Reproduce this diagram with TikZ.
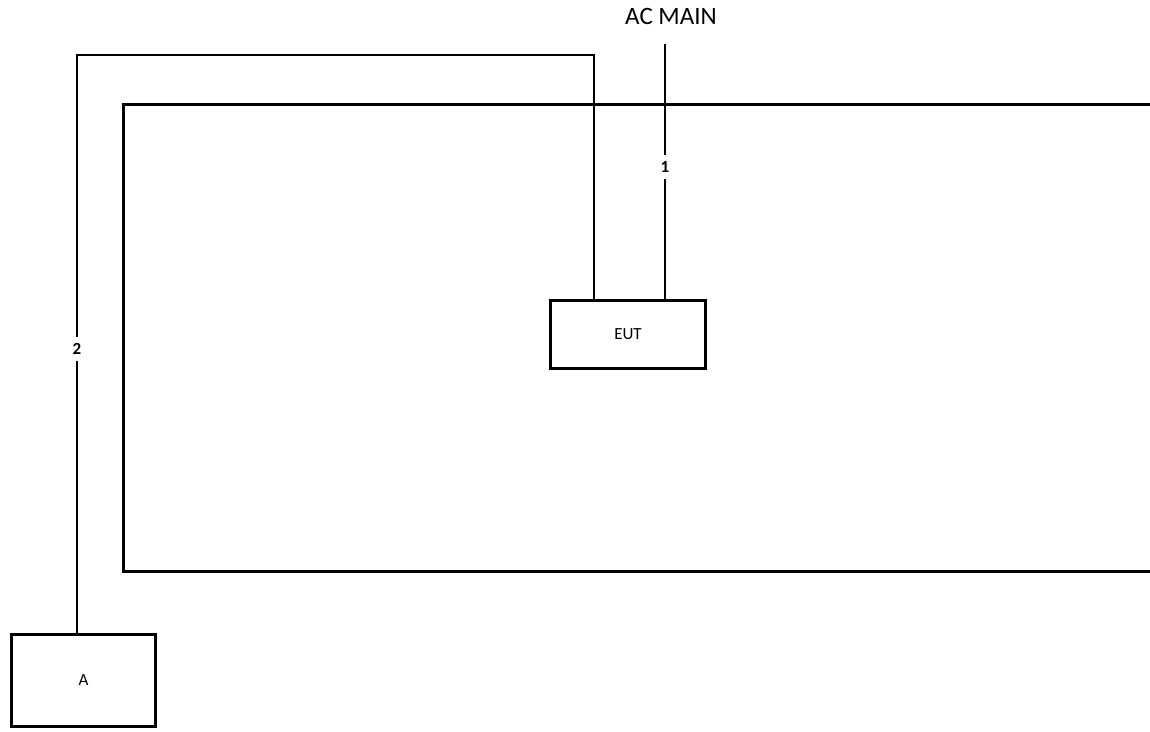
\documentclass[tikz,border=0pt]{standalone}
\usepackage{fontspec}
\setmainfont{Carlito}
\usetikzlibrary{positioning}
\tikzset{%
  unit/.style={draw,line width=3pt,inner sep=0pt},
  table/.style={line width=3pt},
  cable/.style={line width=2pt},
  num/.style={fill=white,font=\bfseries\fontsize{17}{19}\selectfont,inner xsep=3pt,inner ysep=6pt},
  unitlabel/.style={font=\fontsize{17}{19}\selectfont}
}

\begin{document}
\begin{tikzpicture}[x=1pt,y=-1pt]
  \useasboundingbox (0,0) rectangle (1150,731);

  % table outline, open on the right
  \draw[table] (1150,104.5) -- (123.5,104.5) -- (123.5,571.5) -- (1150,571.5);

  \node[unit,minimum width=155pt,minimum height=68pt] (eut) at (628,334.5) {};
  \node[unitlabel] at (eut) {EUT};
  \node[unit,minimum width=144pt,minimum height=92pt] (a) at (83.5,680.5) {};
  \node[unitlabel] at (a) {A};

  \node[font=\fontsize{25}{29}\selectfont] (ac) at (671,16) {AC MAIN};

  \coordinate (mains) at (665,44);
  \coordinate (c2a) at (77,55);
  \coordinate (c2b) at (594,55);

  % cable 1
  \draw[cable] (mains) -- (mains |- eut.north);
  \node[num] at (665,167) {1};

  % cable 2
  \draw[cable] (a.north -| c2a) -- (c2a) -- (c2b) -- (c2b |- eut.north);
  \node[num] at (77,349) {2};
\end{tikzpicture}
\end{document}
